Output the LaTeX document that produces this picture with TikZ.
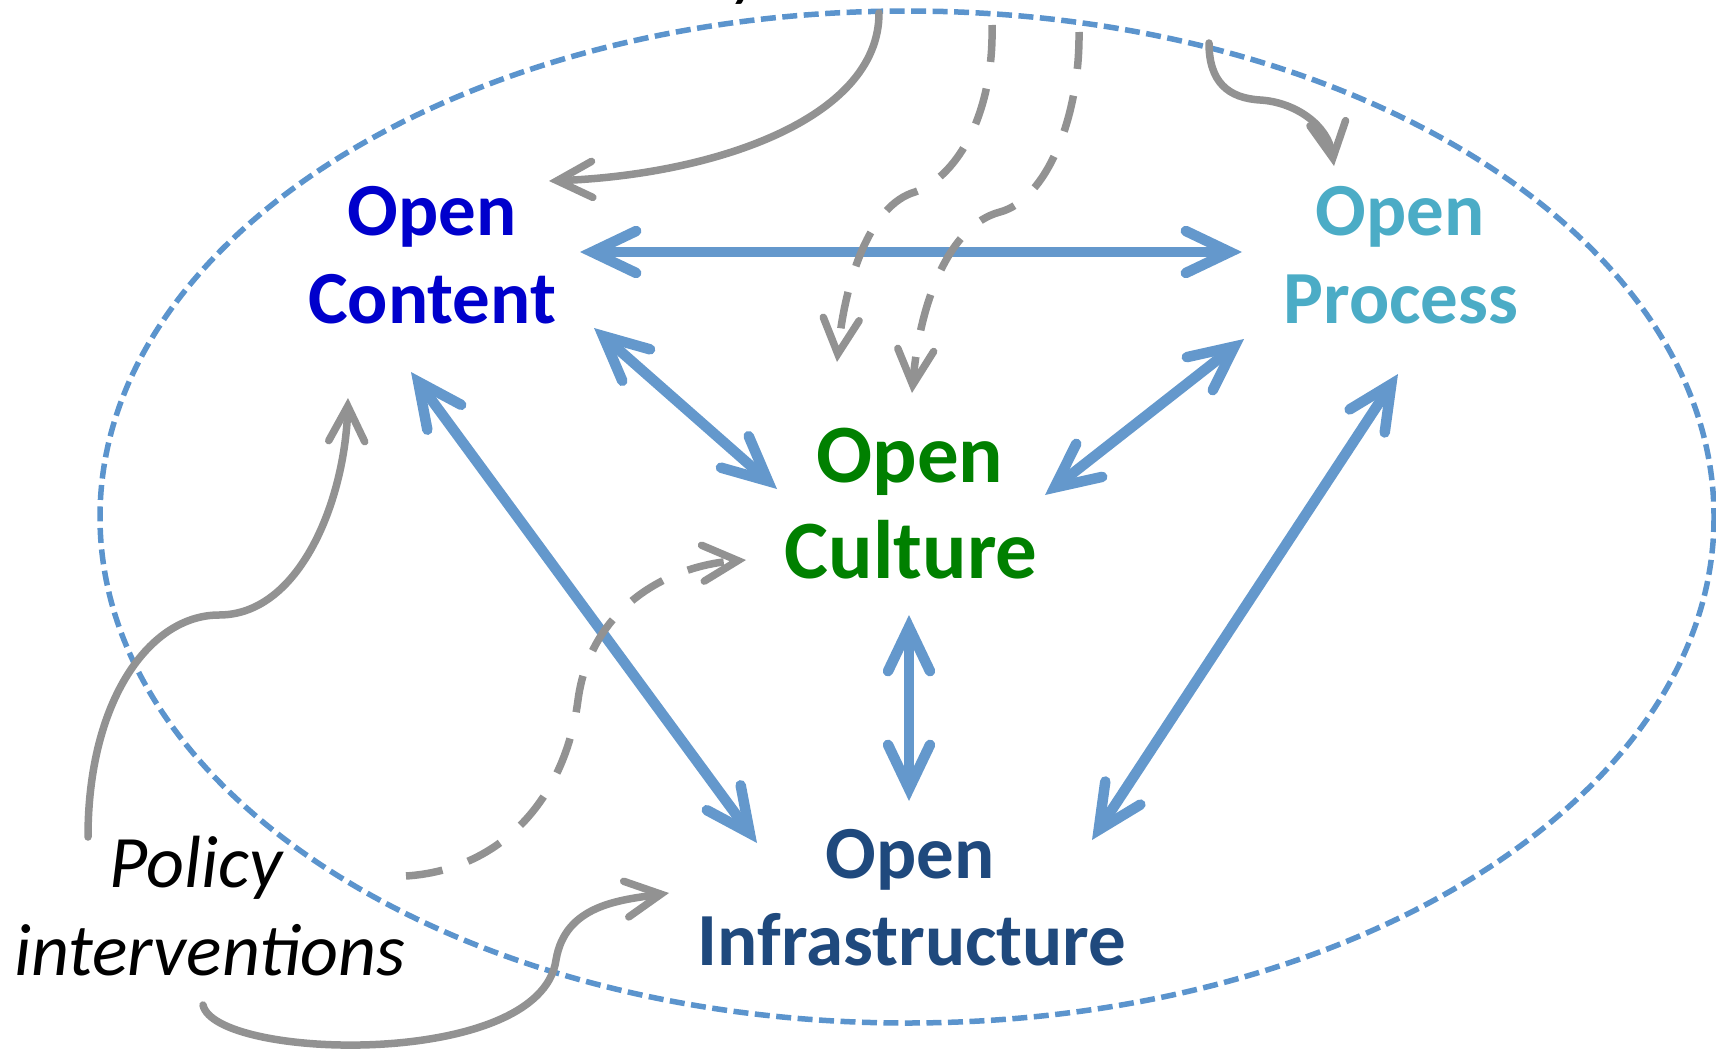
\documentclass[tikz,border=0pt]{standalone}
\usepackage{fontspec}
\setmainfont{Carlito}
\usetikzlibrary{arrows.meta}

\definecolor{ringblue}{RGB}{91,148,205}
\definecolor{linkblue}{RGB}{100,152,204}
\definecolor{policygray}{RGB}{146,146,146}
\definecolor{contentcol}{RGB}{0,0,204}
\definecolor{processcol}{RGB}{75,172,198}
\definecolor{culturecol}{RGB}{0,128,0}
\definecolor{infracol}{RGB}{31,73,125}

\tikzset{
  ring/.style={draw=ringblue, line width=5.5pt, dash pattern=on 15pt off 6.5pt},
  link/.style={draw=linkblue, line width=10.5pt, line cap=round,
    >={Straight Barb[length=44pt,width=42pt,line cap=round,line join=miter]}, <->},
  policy/.style={draw=policygray, line width=7.5pt, line cap=round,
    arrows={-Straight Barb[length=35pt,width=36pt,line cap=round,line join=miter]}},
  policydash/.style={policy, line cap=butt, dash pattern=on 37pt off 27pt},
  lab/.style={inner sep=0pt, anchor=base, font=\fontsize{75}{90}\selectfont\bfseries},
  labbig/.style={inner sep=0pt, anchor=base, font=\fontsize{83}{100}\selectfont\bfseries},
  note/.style={inner sep=0pt, anchor=base, font=\fontsize{74}{88}\selectfont\itshape},
}

\begin{document}
\begin{tikzpicture}[x=1pt, y=-1pt]
\useasboundingbox (0,0) rectangle (1716,1057);

% outer boundary of the open ecosystem
\draw[ring] (907,517) ellipse [x radius=807, y radius=506];

% connector end points
\coordinate (ctE)  at (580,252);
\coordinate (prW)  at (1242,252);
\coordinate (ctSE) at (594,328);
\coordinate (cuNW) at (777,489);
\coordinate (prSW) at (1244,339);
\coordinate (cuNE) at (1045,495);
\coordinate (ctS)  at (411,372);
\coordinate (inNW) at (757,843);
\coordinate (prS)  at (1398,374);
\coordinate (inNE) at (1092,840);
\coordinate (cuS)  at (909,615);
\coordinate (inN)  at (909,801);

% mutual links between the four areas
\draw[link] (ctE)  -- (prW);
\draw[link] (ctSE) -- (cuNW);
\draw[link] (prSW) -- (cuNE);
\draw[link] (ctS)  -- (inNW);
\draw[link] (prS)  -- (inNE);
\draw[link] (cuS)  -- (inN);

% policy influence arrows
\coordinate (rimA) at (879,13);
\coordinate (rimB) at (992,25);
\coordinate (rimC) at (1079,32);
\coordinate (rimD) at (1209,43);
\coordinate (ctTip) at (549,181);
\coordinate (cuTipA) at (837,362);
\coordinate (cuTipB) at (912,393);
\coordinate (prTip) at (1334,166);
\coordinate (polA) at (88,837);
\coordinate (polB) at (203,1005);
\coordinate (polC) at (406,876);
\coordinate (ctTipL) at (348,398);
\coordinate (inTip) at (669,893);
\coordinate (cuTipL) at (746,560);

\draw[policy] (rimA) .. controls (879,120) and (711,175) .. (ctTip);
\draw[policydash] (rimB) .. controls (994,110) and (960,175) .. (915,192)
   .. controls (870,205) and (845,280) .. (cuTipA);
\draw[policydash] (rimC) .. controls (1080,120) and (1045,200) .. (1000,212)
   .. controls (950,225) and (920,300) .. (cuTipB);
\draw[policy] (rimD) .. controls (1209,82) and (1228,98) .. (1260,100)
   .. controls (1295,102) and (1328,125) .. (prTip);
\draw[policy] (polA) .. controls (88,700) and (150,615) .. (219,615)
   .. controls (300,615) and (345,500) .. (ctTipL);
\draw[policy] (polB) .. controls (215,1060) and (540,1070) .. (556,960)
   .. controls (565,905) and (620,900) .. (inTip);
\draw[policydash] (polC) .. controls (500,870) and (565,800) .. (578,700)
   .. controls (590,610) and (665,566) .. (cuTipL);

% labels
\node[lab, text=contentcol] (content1) at (432,235) {Open};
\node[lab, text=contentcol] (content2) at (432,323) {Content};
\node[lab, text=processcol] (process1) at (1400,235) {Open};
\node[lab, text=processcol] (process2) at (1401,323) {Process};
\node[labbig, text=culturecol] (culture1) at (910,482) {Open};
\node[labbig, text=culturecol] (culture2) at (911,578) {Culture};
\node[lab, text=infracol] (infra1) at (910,878) {Open};
\node[lab, text=infracol] (infra2) at (912,965) {Infrastructure};
\node[note] (policy1) at (196,887) {Policy};
\node[note] (policy2) at (210,975) {interventions};
\node[note] (topnote) at (748,-7) {y};
\end{tikzpicture}
\end{document}
